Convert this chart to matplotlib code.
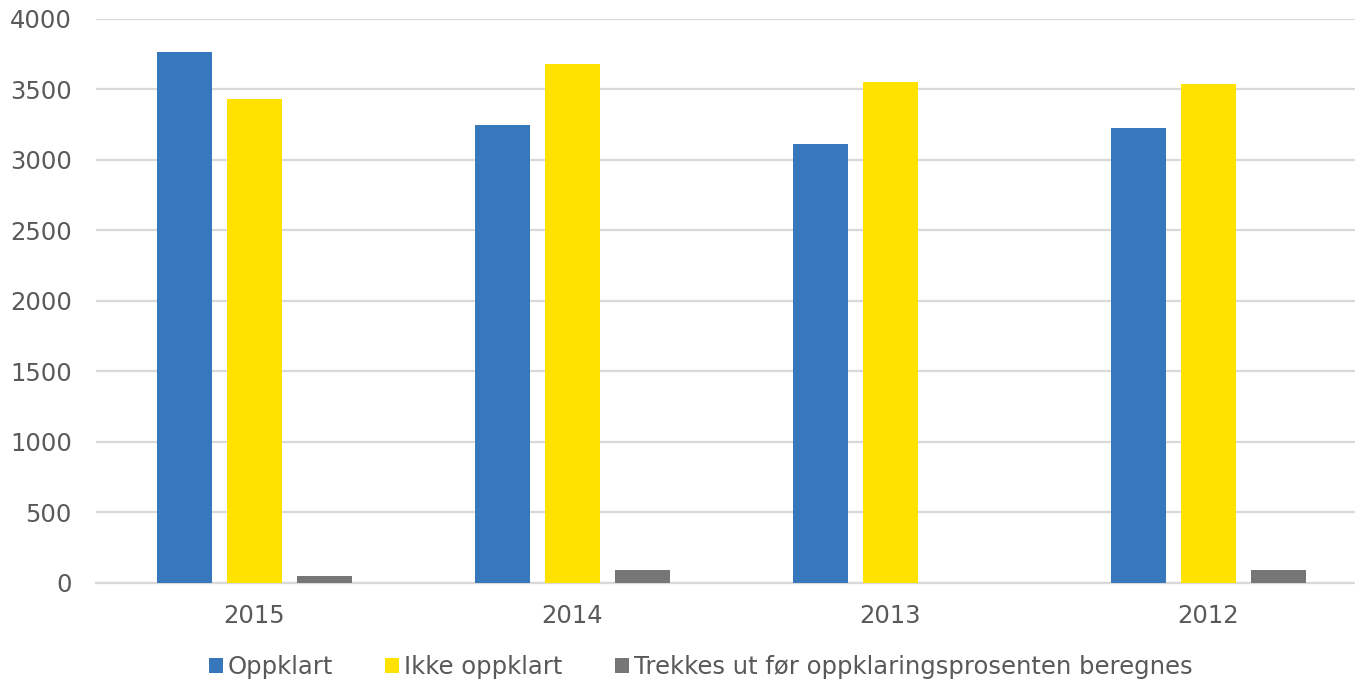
import matplotlib
matplotlib.use("Agg")
import matplotlib.pyplot as plt
import numpy as np

years = ["2015", "2014", "2013", "2012"]
oppklart = [3765, 3250, 3113, 3227]
ikke_oppklart = [3433, 3679, 3553, 3539]
trekkes = [50, 90, 0, 95]
series_labels = ["Oppklart", "Ikke oppklart", "Trekkes ut før oppklaringsprosenten beregnes"]
y_ticks = [0, 500, 1000, 1500, 2000, 2500, 3000, 3500, 4000]

colors = ["#3777BB", "#FFE200", "#767676"]
text_color = "#595959"
grid_color = "#D9D9D9"

plt.rcParams["font.family"] = ["DejaVu Sans"]

fig = plt.figure(figsize=(13.55, 6.82), dpi=100)
ax = fig.add_axes([95.5 / 1355, 1 - 583 / 682, 1 - 95.5 / 1355, (583 - 18.7) / 682])

x = np.arange(len(years))
width = 0.173
step = 0.220
for i, (vals, label) in enumerate(zip([oppklart, ikke_oppklart, trekkes], series_labels)):
    ax.bar(x + (i - 1) * step, vals, width, color=colors[i], label=label, zorder=3)

ax.set_xlim(-0.5, 3.4607)
ax.set_ylim(0, 4000)
ax.set_yticks(y_ticks)
ax.set_xticks(x)
ax.set_xticklabels(years)
ax.yaxis.grid(True, color=grid_color, linewidth=1.6, zorder=0)
ax.set_axisbelow(True)
for side in ["top", "right", "left"]:
    ax.spines[side].set_visible(False)
ax.spines["bottom"].set_color(grid_color)
ax.spines["bottom"].set_linewidth(1.6)
ax.tick_params(axis="y", length=0, pad=17, labelsize=17.5, labelcolor=text_color)
ax.tick_params(axis="x", length=0, pad=15, labelsize=17.5, labelcolor=text_color)

fig.legend(
    loc="center",
    bbox_to_anchor=(0.517, 0.022),
    ncol=3,
    frameon=False,
    fontsize=17.5,
    labelcolor=text_color,
    handlelength=0.58,
    handleheight=0.58,
    handletextpad=0.2,
    columnspacing=2.15,
)

fig.savefig("out.png", dpi=100)
